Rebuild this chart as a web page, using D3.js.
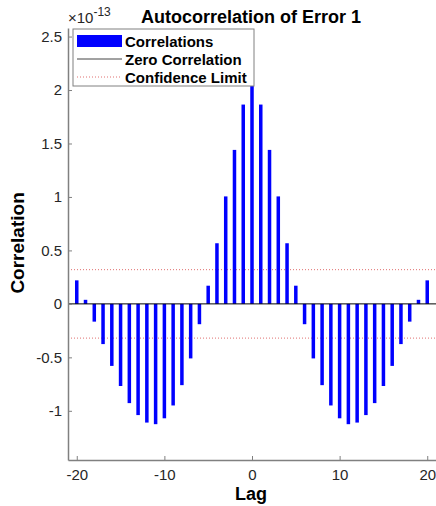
<!DOCTYPE html>
<html>
<head>
<meta charset="utf-8">
<script src="https://cdn.jsdelivr.net/npm/d3@7"></script>
<style>
  body { margin: 0; background: #fff; }
  svg text { font-family: "Liberation Sans", Arial, sans-serif; }
</style>
</head>
<body>
<svg id="chart" width="436" height="506"></svg>
<script>
// lags and autocorrelation values (units of 1e-13)
var lags = d3.range(-20, 21);
var halfValues = [2.12, 1.864, 1.44, 1.005, 0.567, 0.17, -0.19, -0.51, -0.76, -0.95, -1.07,
                  -1.125, -1.11, -1.04, -0.928, -0.768, -0.58, -0.376, -0.166, 0.038, 0.22];
// lag -20..20 (symmetric)
var correlations = halfValues.slice(1).reverse().concat(halfValues);
var confLimit = 0.32;
var xTicks = [-20, -10, 0, 10, 20];
var yTicks = [-1, -0.5, 0, 0.5, 1, 1.5, 2, 2.5];
var legendLabels = ['Correlations', 'Zero Correlation', 'Confidence Limit'];

var svg = d3.select('#chart');
var margin = {left: 68, right: 0, top: 28, bottom: 46};
var W = 436, H = 506;

var x = d3.scaleLinear().domain([-21, 21]).range([margin.left, W - margin.right]);
var y = d3.scaleLinear().domain([-1.46, 2.58]).range([H - margin.bottom, margin.top]);

var data = lags.map(function(l, i){ return {lag: l, v: correlations[i]}; });

// confidence limits
[confLimit, -confLimit].forEach(function(c){
	svg.append('line')
		.attr('x1', x(-21)).attr('x2', x(21))
		.attr('y1', y(c)).attr('y2', y(c))
		.attr('stroke', '#e07070')
		.attr('stroke-width', 1)
		.attr('stroke-dasharray', '1,2');
});

// bars
var bw = x(0.2) - x(-0.2);
svg.append('g').selectAll('rect')
	.data(data)
	.enter().append('rect')
		.attr('x', function(d){ return x(d.lag) - bw / 2; })
		.attr('y', function(d){ return y(Math.max(0, d.v)); })
		.attr('width', bw)
		.attr('height', function(d){ return Math.abs(y(d.v) - y(0)); })
		.attr('fill', '#0000ff');

// zero line
svg.append('line')
	.attr('x1', x(-21)).attr('x2', x(21))
	.attr('y1', y(0)).attr('y2', y(0))
	.attr('stroke', '#000').attr('stroke-width', 1);

// axes (plain hyphen for negatives, like matlab)
var fmt = function(d){ return String(d); };
var yAxis = d3.axisLeft(y).tickValues(yTicks).tickSizeInner(-4).tickSizeOuter(0).tickPadding(6)
	.tickFormat(fmt);
var gy = svg.append('g').attr('transform', 'translate(' + margin.left + ',0)').call(yAxis);

var xAxis = d3.axisBottom(x).tickValues(xTicks).tickSizeInner(-4).tickSizeOuter(0).tickPadding(9)
	.tickFormat(fmt);
var gx = svg.append('g').attr('transform', 'translate(0,' + (H - margin.bottom) + ')').call(xAxis);

[gx, gy].forEach(function(g){
	g.select('.domain').attr('stroke', '#808080').attr('stroke-width', 1.5);
	g.selectAll('.tick line').attr('stroke', '#808080');
	g.selectAll('.tick text').attr('fill', '#262626').style('font-size', '15px');
});

// exponent
var ex = svg.append('text').attr('x', 68).attr('y', 23).attr('fill', '#262626').style('font-size', '15px');
ex.append('tspan').text('\u00d710');
ex.append('tspan').attr('dy', -7).style('font-size', '12px').text('-13');

// title
svg.append('text').attr('x', 251).attr('y', 23).attr('text-anchor', 'middle')
	.style('font-size', '18px').style('font-weight', 'bold').attr('fill', '#000')
	.text('Autocorrelation of Error 1');

// axis labels
svg.append('text').attr('x', 251).attr('y', 500).attr('text-anchor', 'middle')
	.style('font-size', '18px').style('font-weight', 'bold').text('Lag');
svg.append('text').attr('transform', 'translate(24,' + y(0.57) + ') rotate(-90)')
	.attr('text-anchor', 'middle')
	.style('font-size', '19px').style('font-weight', 'bold').text('Correlation');

// legend
var lg = svg.append('g').attr('transform', 'translate(73,29)');
lg.append('rect').attr('width', 181).attr('height', 57)
	.attr('fill', '#fff').attr('stroke', '#808080').attr('stroke-width', 1);
lg.append('rect').attr('x', 4).attr('y', 6).attr('width', 45).attr('height', 12).attr('fill', '#0000ff');
lg.append('line').attr('x1', 4).attr('x2', 49).attr('y1', 30).attr('y2', 30)
	.attr('stroke', '#444').attr('stroke-width', 1);
lg.append('line').attr('x1', 4).attr('x2', 49).attr('y1', 48).attr('y2', 48)
	.attr('stroke', '#e07070').attr('stroke-width', 1).attr('stroke-dasharray', '1,2');
lg.selectAll('text.lab').data(legendLabels).enter().append('text')
	.attr('class', 'lab')
	.attr('x', 52).attr('y', function(d, i){ return 18 + i * 18; })
	.style('font-size', '15px').style('font-weight', 'bold').attr('fill', '#000')
	.text(function(d){ return d; });
</script>
</body>
</html>
